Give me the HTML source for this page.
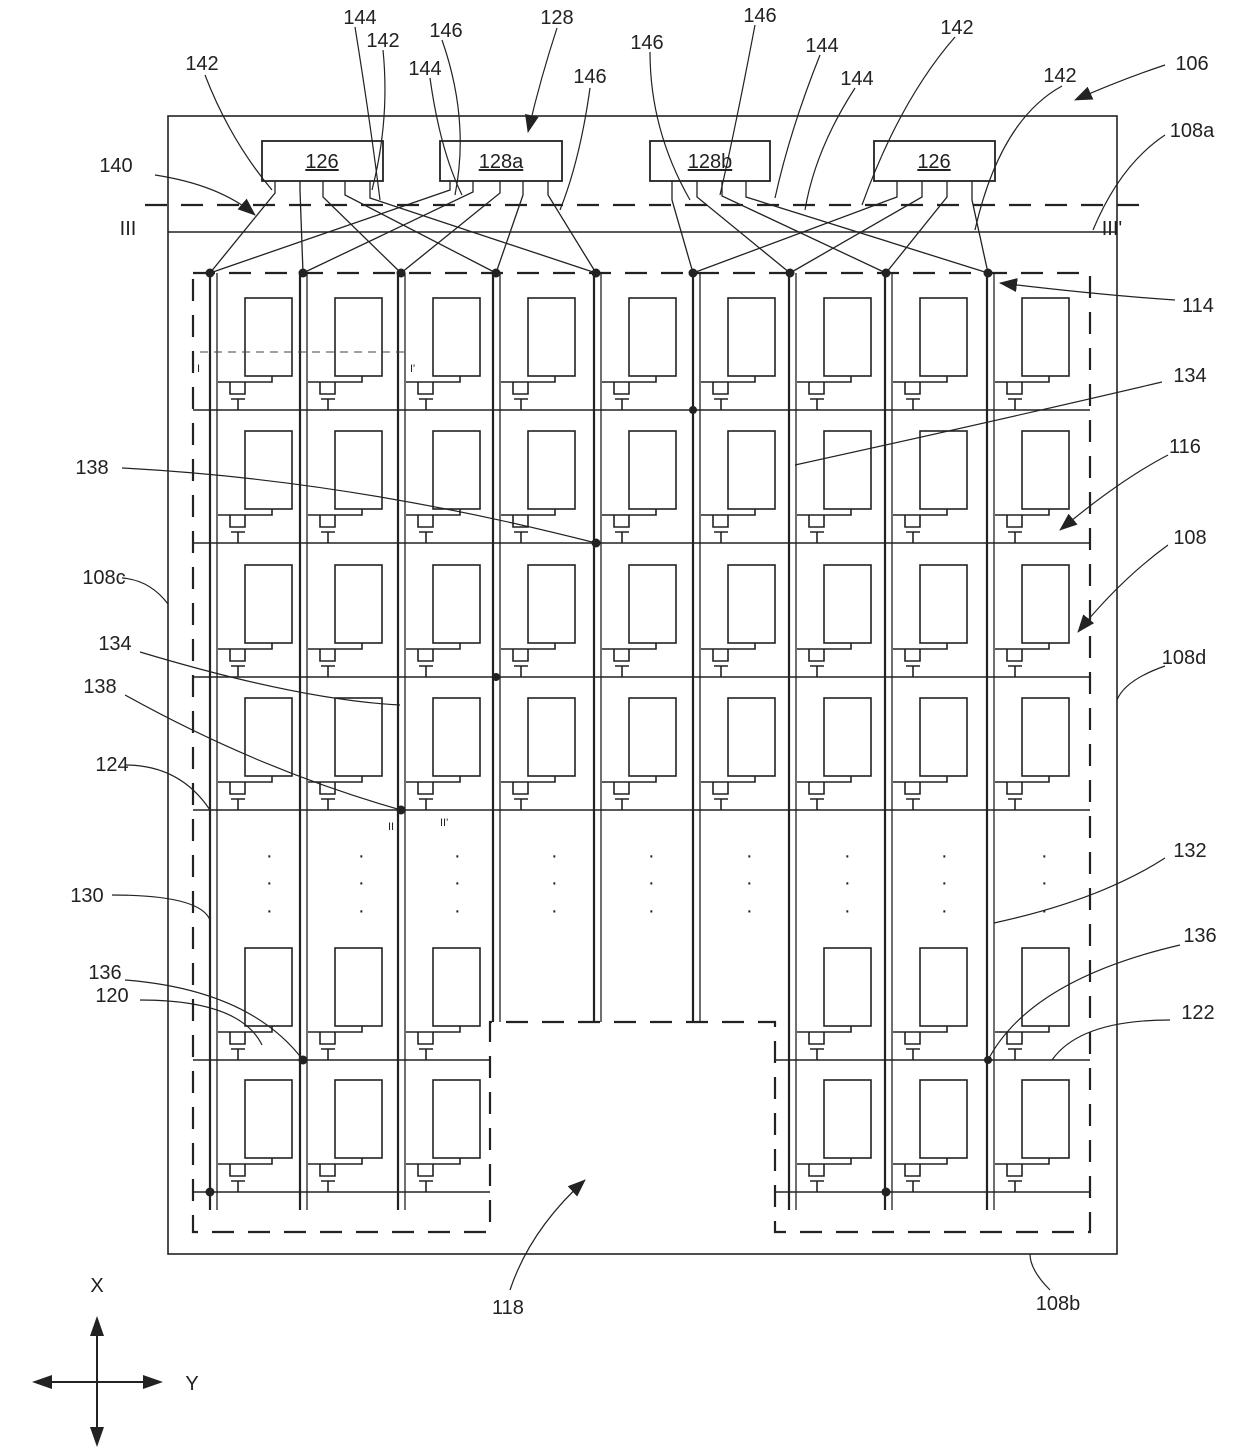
<!DOCTYPE html>
<html><head><meta charset="utf-8"><style>
html,body{margin:0;padding:0;background:#fff}
svg{display:block}
text{font-family:"Liberation Sans",sans-serif;font-size:20px;fill:#222}
</style></head><body>
<svg width="1240" height="1452" viewBox="0 0 1240 1452" xmlns="http://www.w3.org/2000/svg">
<defs>
<g id="c" fill="none" stroke="#222" stroke-width="1.6">
<rect x="35" y="-112" width="47" height="78"/>
<path d="M8 -28 H62 V-34"/>
<path d="M20 -28 V-16 H35 V-28"/>
<path d="M21 -11 H35 M28 -11 V0"/>
</g>
<g id="r">
<use href="#c" x="210"/><use href="#c" x="300"/><use href="#c" x="398"/><use href="#c" x="493"/><use href="#c" x="594"/><use href="#c" x="693"/><use href="#c" x="789"/><use href="#c" x="885"/><use href="#c" x="987"/>
</g>
<g id="rl">
<use href="#c" x="210"/><use href="#c" x="300"/><use href="#c" x="398"/><use href="#c" x="789"/><use href="#c" x="885"/><use href="#c" x="987"/>
</g>
<marker id="a" markerWidth="10" markerHeight="10" refX="9" refY="5" orient="auto" markerUnits="userSpaceOnUse" viewBox="0 0 10 10"><path d="M0 0 L10 5 L0 10z" fill="#222"/></marker>
<marker id="b" markerWidth="18" markerHeight="18" refX="17" refY="9" orient="auto" markerUnits="userSpaceOnUse" viewBox="0 0 18 18"><path d="M0 2 L18 9 L0 16z" fill="#222"/></marker>
</defs>

<!-- outer -->
<rect x="168" y="116" width="949" height="1138" fill="none" stroke="#222" stroke-width="1.6"/>
<line x1="168" y1="232" x2="1117" y2="232" stroke="#222" stroke-width="1.6"/>
<line x1="145" y1="205" x2="1140" y2="205" stroke="#222" stroke-width="2.2" stroke-dasharray="22,14"/>

<!-- dashed region -->
<path d="M193 273 H1090 V1232 H775 V1022 H490 V1232 H193 Z" fill="none" stroke="#222" stroke-width="2.2" stroke-dasharray="22,14"/>

<!-- gate lines -->
<g stroke="#222" stroke-width="1.6">
<line x1="193" y1="410" x2="1090" y2="410"/>
<line x1="193" y1="543" x2="1090" y2="543"/>
<line x1="193" y1="677" x2="1090" y2="677"/>
<line x1="193" y1="810" x2="1090" y2="810"/>
<line x1="193" y1="1060" x2="490" y2="1060"/>
<line x1="775" y1="1060" x2="1090" y2="1060"/>
<line x1="193" y1="1192" x2="490" y2="1192"/>
<line x1="775" y1="1192" x2="1090" y2="1192"/>
</g>

<!-- data lines -->
<g stroke="#222">
<g stroke-width="2.2">
<line x1="210" y1="273" x2="210" y2="1210"/><line x1="300" y1="273" x2="300" y2="1210"/><line x1="398" y1="273" x2="398" y2="1210"/>
<line x1="493" y1="273" x2="493" y2="1022"/><line x1="594" y1="273" x2="594" y2="1022"/><line x1="693" y1="273" x2="693" y2="1022"/>
<line x1="789" y1="273" x2="789" y2="1210"/><line x1="885" y1="273" x2="885" y2="1210"/><line x1="987" y1="273" x2="987" y2="1210"/>
</g>
<g stroke-width="1.3">
<line x1="217" y1="273" x2="217" y2="1210"/><line x1="307" y1="273" x2="307" y2="1210"/><line x1="405" y1="273" x2="405" y2="1210"/>
<line x1="500" y1="273" x2="500" y2="1022"/><line x1="601" y1="273" x2="601" y2="1022"/><line x1="700" y1="273" x2="700" y2="1022"/>
<line x1="796" y1="273" x2="796" y2="1210"/><line x1="892" y1="273" x2="892" y2="1210"/><line x1="994" y1="273" x2="994" y2="1210"/>
</g>
</g>

<!-- cells -->
<use href="#r" y="410"/><use href="#r" y="543"/><use href="#r" y="677"/><use href="#r" y="810"/>
<use href="#rl" y="1060"/><use href="#rl" y="1192"/>

<!-- I-I' dashed -->
<line x1="200" y1="352" x2="410" y2="352" stroke="#444" stroke-width="1" stroke-dasharray="8,6"/>
<text x="197" y="372" style="font-size:11px">I</text><text x="410" y="372" style="font-size:11px">I'</text>
<text x="388" y="830" style="font-size:11px">II</text><text x="440" y="826" style="font-size:11px">II'</text>

<!-- dots -->
<g fill="#444" font-size="20">
<text x="266" y="862">·</text><text x="266" y="889">·</text><text x="266" y="917">·</text>
<text x="358" y="862">·</text><text x="358" y="889">·</text><text x="358" y="917">·</text>
<text x="454" y="862">·</text><text x="454" y="889">·</text><text x="454" y="917">·</text>
<text x="551" y="862">·</text><text x="551" y="889">·</text><text x="551" y="917">·</text>
<text x="648" y="862">·</text><text x="648" y="889">·</text><text x="648" y="917">·</text>
<text x="746" y="862">·</text><text x="746" y="889">·</text><text x="746" y="917">·</text>
<text x="844" y="862">·</text><text x="844" y="889">·</text><text x="844" y="917">·</text>
<text x="941" y="862">·</text><text x="941" y="889">·</text><text x="941" y="917">·</text>
<text x="1041" y="862">·</text><text x="1041" y="889">·</text><text x="1041" y="917">·</text>
</g>

<!-- junction dots -->
<g fill="#222">
<circle cx="210" cy="273" r="4.5"/><circle cx="303" cy="273" r="4.5"/><circle cx="401" cy="273" r="4.5"/><circle cx="496" cy="273" r="4.5"/><circle cx="596" cy="273" r="4.5"/>
<circle cx="693" cy="273" r="4.5"/><circle cx="790" cy="273" r="4.5"/><circle cx="886" cy="273" r="4.5"/><circle cx="988" cy="273" r="4.5"/>
<circle cx="693" cy="410" r="4"/><circle cx="596" cy="543" r="4.5"/><circle cx="496" cy="677" r="4"/><circle cx="401" cy="810" r="4.5"/>
<circle cx="303" cy="1060" r="4.5"/><circle cx="988" cy="1060" r="4"/><circle cx="210" cy="1192" r="4.5"/><circle cx="886" cy="1192" r="4.5"/>
</g>

<!-- driver boxes -->
<g fill="#fff" stroke="#222" stroke-width="1.8">
<rect x="262" y="141" width="121" height="40"/>
<rect x="440" y="141" width="122" height="40"/>
<rect x="650" y="141" width="120" height="40"/>
<rect x="874" y="141" width="121" height="40"/>
</g>
<text x="322" y="168" text-anchor="middle" text-decoration="underline">126</text>
<text x="501" y="168" text-anchor="middle" text-decoration="underline">128a</text>
<text x="710" y="168" text-anchor="middle" text-decoration="underline">128b</text>
<text x="934" y="168" text-anchor="middle" text-decoration="underline">126</text>

<!-- fanout -->
<g stroke="#222" stroke-width="1.3" fill="none">
<path d="M275 181 V193 L210 273"/>
<path d="M300 181 V190 L303 273"/>
<path d="M323 181 V197 L401 273"/>
<path d="M345 181 V195 L496 273"/>
<path d="M370 181 V198 L596 273"/>
<path d="M450 181 V190 L210 273"/>
<path d="M473 181 V192 L303 273"/>
<path d="M500 181 V193 L401 273"/>
<path d="M523 181 V195 L496 273"/>
<path d="M548 181 V195 L596 273"/>
<path d="M672 181 V200 L693 273"/>
<path d="M697 181 V197 L790 273"/>
<path d="M722 181 V196 L886 273"/>
<path d="M746 181 V197 L988 273"/>
<path d="M897 181 V197 L693 273"/>
<path d="M922 181 V197 L790 273"/>
<path d="M947 181 V197 L886 273"/>
<path d="M972 181 V200 L988 273"/>
</g>

<!-- leaders -->
<g stroke="#222" stroke-width="1.2" fill="none">
<path d="M205 75 Q230 140 272 190"/>
<path d="M355 27 Q370 120 380 200"/>
<path d="M383 50 Q390 120 372 190"/>
<path d="M442 40 Q470 120 455 195"/>
<path d="M430 78 Q440 150 462 195"/>
<path d="M590 88 Q580 160 560 210"/>
<path d="M650 52 Q650 130 690 200"/>
<path d="M755 25 Q735 130 720 195"/>
<path d="M820 55 Q790 130 775 198"/>
<path d="M855 88 Q815 150 805 210"/>
<path d="M955 37 Q900 100 862 205"/>
<path d="M1062 86 Q1000 120 975 230"/>
<path d="M155 175 Q220 185 255 215" marker-end="url(#b)"/>
<path d="M557 28 Q540 80 528 132" marker-end="url(#b)"/>
<path d="M1165 65 Q1120 80 1075 100" marker-end="url(#b)"/>
<path d="M1165 135 Q1120 165 1093 230"/>
<path d="M1175 300 Q1100 295 1000 283" marker-end="url(#b)"/>
<path d="M1162 382 Q1000 420 795 465"/>
<path d="M1168 455 Q1120 480 1060 530" marker-end="url(#b)"/>
<path d="M122 468 Q350 480 596 543"/>
<path d="M1168 545 Q1120 580 1078 632" marker-end="url(#b)"/>
<path d="M122 578 Q150 580 168 604"/>
<path d="M140 652 Q300 700 400 705"/>
<path d="M1165 666 Q1125 680 1117 700"/>
<path d="M125 695 Q260 770 401 810"/>
<path d="M125 765 Q180 765 210 810"/>
<path d="M1165 858 Q1100 900 994 923"/>
<path d="M112 895 Q200 895 210 920"/>
<path d="M1180 945 Q1030 980 988 1060"/>
<path d="M125 980 Q250 990 303 1060"/>
<path d="M140 1000 Q240 1000 262 1045"/>
<path d="M1170 1020 Q1080 1020 1052 1060"/>
<path d="M510 1290 Q530 1230 585 1180" marker-end="url(#b)"/>
<path d="M1050 1290 Q1030 1270 1030 1254"/>
</g>

<!-- labels -->
<g text-anchor="middle">
<text x="202" y="70">142</text><text x="360" y="24">144</text><text x="383" y="47">142</text><text x="446" y="37">146</text>
<text x="557" y="24">128</text><text x="425" y="75">144</text><text x="590" y="83">146</text><text x="647" y="49">146</text>
<text x="760" y="22">146</text><text x="822" y="52">144</text><text x="857" y="85">144</text><text x="957" y="34">142</text>
<text x="1060" y="82">142</text><text x="1192" y="70">106</text><text x="1192" y="137">108a</text>
<text x="116" y="172">140</text><text x="128" y="235">III</text><text x="1112" y="235">III'</text>
<text x="1198" y="312">114</text><text x="1190" y="382">134</text><text x="1185" y="453">116</text>
<text x="92" y="474">138</text><text x="1190" y="544">108</text><text x="104" y="584">108c</text>
<text x="115" y="650">134</text><text x="1184" y="664">108d</text><text x="100" y="693">138</text>
<text x="112" y="771">124</text><text x="1190" y="857">132</text><text x="87" y="902">130</text>
<text x="1200" y="942">136</text><text x="105" y="979">136</text><text x="112" y="1002">120</text>
<text x="1198" y="1019">122</text><text x="508" y="1314">118</text><text x="1058" y="1310">108b</text>
<text x="97" y="1292">X</text><text x="192" y="1390">Y</text>
</g>

<!-- axes -->
<g stroke="#222" stroke-width="2">
<line x1="97" y1="1325" x2="97" y2="1438"/>
<line x1="40" y1="1382" x2="155" y2="1382"/>
</g>
<g fill="#222">
<path d="M97 1316 L90 1336 L104 1336z"/>
<path d="M97 1447 L90 1427 L104 1427z"/>
<path d="M32 1382 L52 1375 L52 1389z"/>
<path d="M163 1382 L143 1375 L143 1389z"/>
</g>
</svg>
</body></html>
